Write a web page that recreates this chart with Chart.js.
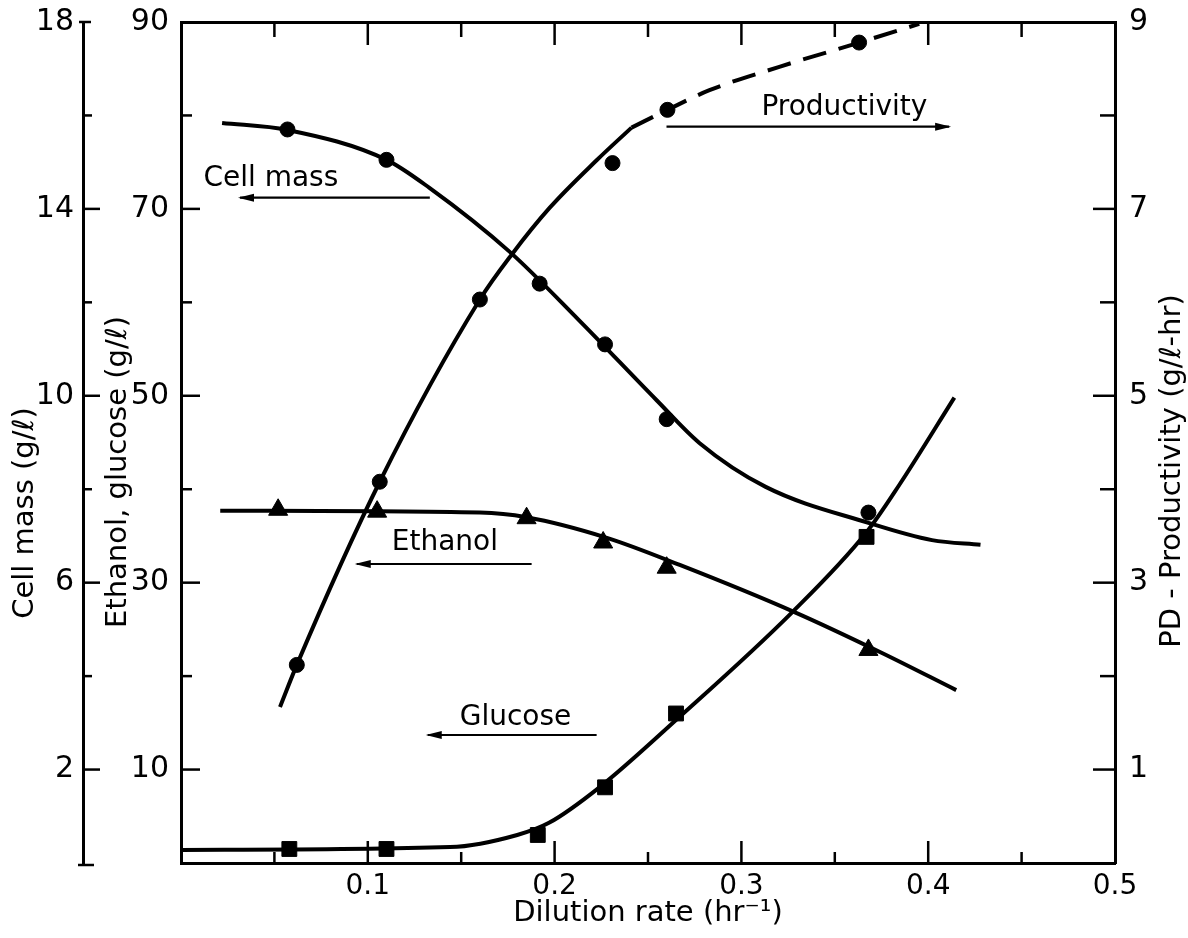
<!DOCTYPE html>
<html>
<head>
<meta charset="utf-8">
<script src="https://cdn.jsdelivr.net/npm/chart.js@4.4.1/dist/chart.umd.min.js"></script>
<style>
html,body{margin:0;padding:0;background:#fff;}
#wrap{width:1188px;height:938px;}
</style>
</head>
<body>
<div id="wrap"><canvas id="c" width="1188" height="938"></canvas></div>
<script>
// ---- tick values / labels ----
const xTickValues = [0.1, 0.2, 0.3, 0.4, 0.5];
const xTickLabels = ['0.1', '0.2', '0.3', '0.4', '0.5'];
const xMinorTicks = [0.05, 0.15, 0.25, 0.35, 0.45];
const concTicks = [10, 30, 50, 70, 90];
const concMinorTicks = [20, 40, 60, 80];
const cellTicks = [2, 6, 10, 14, 18];
const cellMinorTicks = [4, 8, 12, 16];
const prodTicks = [1, 3, 5, 7, 9];
const prodMinorTicks = [2, 4, 6, 8];

// ---- cell mass (g/l) ----
const cellMassRate = [0.057, 0.110, 0.192, 0.227, 0.260, 0.368];
const cellMass = [15.7, 15.05, 12.4, 11.1, 9.5, 7.5];
const cellMassFitRate = [0.022, 0.057, 0.110, 0.133, 0.176, 0.213, 0.2545, 0.2775, 0.313, 0.368, 0.402, 0.428];
const cellMassFit = [15.84, 15.69, 15.05, 14.45, 13.08, 11.62, 9.91, 8.99, 8.05, 7.28, 6.91, 6.81];

// ---- productivity (g/l-hr) ----
const prodRate = [0.062, 0.1064, 0.160, 0.231, 0.2604, 0.363];
const productivity = [2.12, 4.08, 6.03, 7.49, 8.06, 8.78];
const prodFitRate = [0.053, 0.062, 0.1064, 0.160, 0.177, 0.1973, 0.2225, 0.2412];
const prodFit = [1.67, 2.12, 4.08, 6.03, 6.51, 7.01, 7.52, 7.87];
const prodExtrapRate = [0.2412, 0.2604, 0.2829, 0.3203, 0.3631, 0.3952];
const prodExtrap = [7.87, 8.06, 8.27, 8.52, 8.78, 8.98];

// ---- ethanol (g/l) ----
const ethanolRate = [0.052, 0.105, 0.185, 0.226, 0.260, 0.368];
const ethanol = [37.8, 37.6, 36.9, 34.3, 31.6, 22.8];
const ethanolFitRate = [0.021, 0.160, 0.185, 0.228, 0.267, 0.329, 0.375, 0.415];
const ethanolFit = [37.7, 37.5, 37.0, 34.8, 31.9, 26.8, 22.5, 18.5];

// ---- glucose (g/l) ----
const glucoseRate = [0.058, 0.110, 0.191, 0.227, 0.265, 0.367];
const glucose = [1.5, 1.5, 3.0, 8.1, 16.0, 34.9];
const glucoseFitRate = [0.0, 0.144, 0.180, 0.197, 0.224, 0.265, 0.327, 0.367, 0.3845, 0.414];
const glucoseFit = [1.4, 1.7, 3.0, 4.3, 8.1, 15.3, 26.8, 35.4, 40.45, 49.8];

// ---- text ----
const xTitle = 'Dilution rate (hr\u207B\u00B9)';
const cellTitle = 'Cell mass (g/\u2113)';
const concTitle = 'Ethanol, glucose (g/\u2113)';
const prodTitle = 'PD - Productivity (g/\u2113-hr)';

const pts = (xs, ys) => xs.map((v, i) => ({x: v, y: ys[i]}));
const FONT = '"DejaVu Sans", sans-serif';

// call-out labels, placed in data coordinates of the (x, y) scales
const callouts = [
  {text: 'Cell mass', tx: 0.012, ty: 73.2, ax1: 0.0316, ax2: 0.1332, ay: 71.2, head: 'left'},
  {text: 'Ethanol', tx: 0.1128, ty: 34.25, ax1: 0.0941, ax2: 0.1877, ay: 32.0, head: 'left'},
  {text: 'Glucose', tx: 0.1492, ty: 15.6, ax1: 0.1321, ax2: 0.2225, ay: 13.7, head: 'left'},
  {text: 'Productivity', tx: 0.3107, ty: 80.8, ax1: 0.2599, ax2: 0.4112, ay: 78.8, head: 'right'}
];

const decor = {
  id: 'decor',
  beforeDraw(chart) {
    const c = chart.ctx;
    c.save(); c.fillStyle = '#fff'; c.fillRect(0, 0, chart.width, chart.height); c.restore();
  },
  afterDraw(chart) {
    const ctx = chart.ctx;
    const {x, y, yCell, yProd} = chart.scales;
    const ca = chart.chartArea;
    ctx.save();
    ctx.strokeStyle = '#000';
    ctx.fillStyle = '#000';
    ctx.lineCap = 'butt';
    ctx.lineWidth = 2.5;
    const line = (x1, y1, x2, y2) => { ctx.beginPath(); ctx.moveTo(x1, y1); ctx.lineTo(x2, y2); ctx.stroke(); };

    // x ticks (bottom and top), pointing inward
    xTickValues.forEach(v => {
      if (v >= 0.5) return;
      const px = x.getPixelForValue(v);
      line(px, ca.bottom, px, ca.bottom - 22);
      line(px, ca.top, px, ca.top + 23);
    });
    xMinorTicks.forEach(v => {
      const px = x.getPixelForValue(v);
      line(px, ca.bottom, px, ca.bottom - 11);
      line(px, ca.top, px, ca.top + 15);
    });
    // inner left axis
    concTicks.forEach(v => { if (v >= 90) return; const py = y.getPixelForValue(v); line(ca.left, py, ca.left + 19, py); });
    concMinorTicks.forEach(v => { const py = y.getPixelForValue(v); line(ca.left, py, ca.left + 11, py); });
    // right axis
    prodTicks.forEach(v => { if (v >= 9) return; const py = yProd.getPixelForValue(v); line(ca.right, py, ca.right - 22, py); });
    prodMinorTicks.forEach(v => { const py = yProd.getPixelForValue(v); line(ca.right, py, ca.right - 15, py); });
    // outer cell-mass axis
    const cx = yCell.right;
    cellTicks.forEach(v => { const py = yCell.getPixelForValue(v); line(cx, py, cx + (v >= 18 ? 8 : 17), py); });
    cellMinorTicks.forEach(v => { const py = yCell.getPixelForValue(v); line(cx, py, cx + 9, py); });
    const py0 = yCell.getPixelForValue(0) + 2;
    line(cx - 5, py0, cx + 11, py0);
    const py18 = yCell.getPixelForValue(18);
    line(cx - 4, py18, cx, py18);

    // call-outs
    ctx.font = '28px ' + FONT;
    ctx.textBaseline = 'middle';
    ctx.textAlign = 'left';
    callouts.forEach(c => {
      ctx.fillText(c.text, x.getPixelForValue(c.tx), y.getPixelForValue(c.ty));
      const x1 = x.getPixelForValue(c.ax1), x2 = x.getPixelForValue(c.ax2), ay = y.getPixelForValue(c.ay);
      ctx.lineWidth = 2.2;
      line(x1, ay, x2, ay);
      ctx.beginPath();
      if (c.head === 'left') {
        ctx.moveTo(x1 - 2, ay); ctx.lineTo(x1 + 14, ay - 4); ctx.lineTo(x1 + 14, ay + 4);
      } else {
        ctx.moveTo(x2 + 2, ay); ctx.lineTo(x2 - 14, ay - 4); ctx.lineTo(x2 - 14, ay + 4);
      }
      ctx.closePath(); ctx.fill();
    });

    // vertical axis titles (all read bottom-to-top)
    ctx.font = '29px ' + FONT;
    ctx.textAlign = 'center';
    ctx.textBaseline = 'middle';
    const vtext = (t, px, py) => { ctx.save(); ctx.translate(px, py); ctx.rotate(-Math.PI / 2); ctx.fillText(t, 0, 0); ctx.restore(); };
    vtext(cellTitle, yCell.left + 25, 513);
    vtext(concTitle, y.left + 35, 472);
    vtext(prodTitle, yProd.left + 57, 471);
    ctx.restore();
  }
};

const curve = (data, axis, extra) => Object.assign({
  data, yAxisID: axis, showLine: true, pointRadius: 0, borderColor: '#000',
  borderWidth: 4, cubicInterpolationMode: 'monotone', fill: false, clip: false
}, extra || {});
const marks = (data, axis, style, r) => ({
  data, yAxisID: axis, showLine: false, pointStyle: style, pointRadius: r,
  pointBackgroundColor: '#000', pointBorderColor: '#000', pointBorderWidth: 1, clip: false
});

const tickFont = {family: FONT, size: 30, lineHeight: 0.4};

new Chart(document.getElementById('c'), {
  type: 'scatter',
  data: {
    datasets: [
      curve(pts(cellMassFitRate, cellMassFit), 'yCell'),
      curve(pts(prodFitRate, prodFit), 'yProd'),
      curve(pts(prodExtrapRate, prodExtrap), 'yProd', {borderDash: [24, 13]}),
      curve(pts(ethanolFitRate, ethanolFit), 'y'),
      curve(pts(glucoseFitRate, glucoseFit), 'y'),
      marks(pts(cellMassRate, cellMass), 'yCell', 'circle', 7.5),
      marks(pts(prodRate, productivity), 'yProd', 'circle', 7.5),
      marks(pts(ethanolRate, ethanol), 'y', 'triangle', 11),
      marks(pts(glucoseRate, glucose), 'y', 'rect', 10.5)
    ]
  },
  options: {
    responsive: false,
    animation: false,
    events: [],
    layout: {padding: 0},
    plugins: {legend: {display: false}, tooltip: {enabled: false}},
    scales: {
      x: {
        type: 'linear', position: 'bottom', min: 0, max: 0.5,
        afterBuildTicks: s => { s.ticks = xTickValues.map(v => ({value: v})); },
        ticks: {callback: (v, i) => xTickLabels[i], padding: 7, maxRotation: 0, autoSkip: false, color: '#000', font: {family: FONT, size: 28}},
        grid: {display: false, drawTicks: false},
        border: {display: true, width: 3, color: '#000'},
        title: {display: true, text: xTitle, color: '#000', font: {family: FONT, size: 29}, padding: {top: 0, bottom: 7}},
        afterFit: s => { s.height = 75; }
      },
      xTop: {
        type: 'linear', position: 'top', min: 0, max: 0.5,
        ticks: {display: false}, grid: {display: false, drawTicks: false},
        border: {display: true, width: 3, color: '#000'},
        afterFit: s => { s.height = 22; }
      },
      y: {
        type: 'linear', position: 'left', min: 0, max: 90, weight: 0,
        afterBuildTicks: s => { s.ticks = concTicks.map(v => ({value: v})); },
        ticks: {padding: 12, color: '#000', font: tickFont, autoSkip: false},
        grid: {display: false, drawTicks: false},
        border: {display: true, width: 3, color: '#000'},
        afterFit: s => { s.width = 98; }
      },
      yCell: {
        type: 'linear', position: 'left', min: 0, max: 18, weight: 1,
        afterBuildTicks: s => { s.ticks = cellTicks.map(v => ({value: v})); },
        ticks: {padding: 9, color: '#000', font: tickFont, autoSkip: false},
        grid: {display: false, drawTicks: false},
        border: {display: true, width: 3, color: '#000'},
        afterFit: s => { s.width = 83; }
      },
      yProd: {
        type: 'linear', position: 'right', min: 0, max: 9,
        afterBuildTicks: s => { s.ticks = prodTicks.map(v => ({value: v})); },
        ticks: {padding: 14, color: '#000', font: tickFont, autoSkip: false},
        grid: {display: false, drawTicks: false},
        border: {display: true, width: 3, color: '#000'},
        afterFit: s => { s.width = 73; }
      }
    }
  },
  plugins: [decor]
});
</script>
</body>
</html>
